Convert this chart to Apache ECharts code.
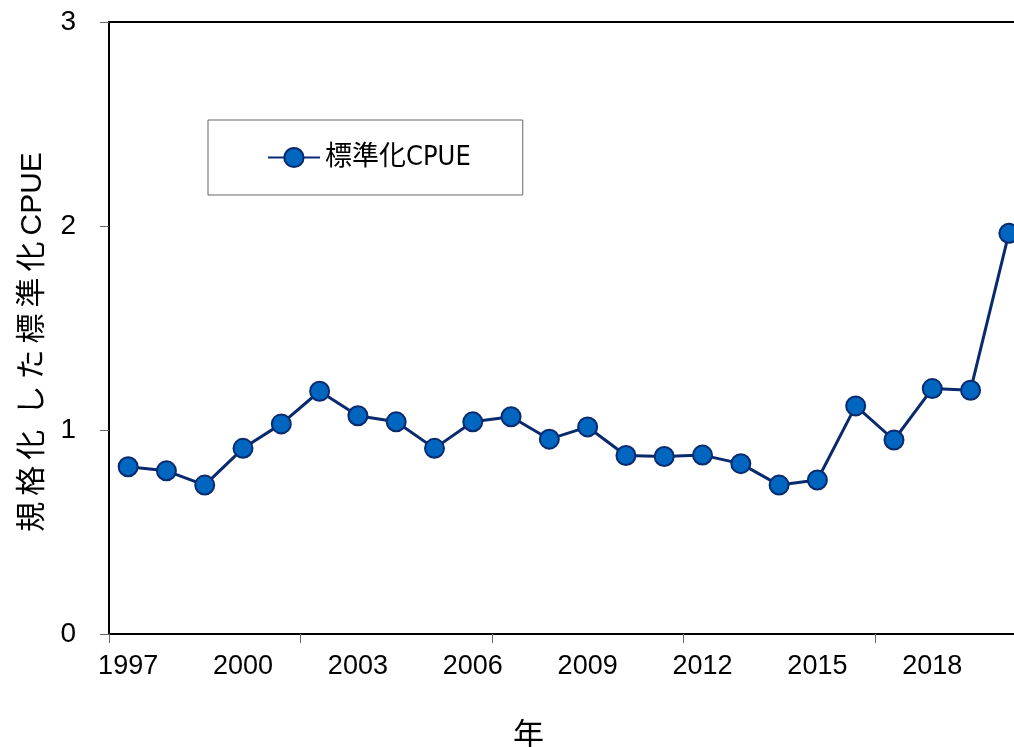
<!DOCTYPE html>
<html>
<head>
<meta charset="utf-8">
<script src="https://cdn.jsdelivr.net/npm/echarts@6/dist/echarts.min.js"></script>
<style>
html, body { margin: 0; padding: 0; background: #fff; }
#main { width: 1014px; height: 747px; }
</style>
</head>
<body>
<div id="main"></div>
<script>
var years = ['1997','1998','1999','2000','2001','2002','2003','2004','2005','2006','2007','2008',
             '2009','2010','2011','2012','2013','2014','2015','2016','2017','2018','2019','2020'];
var cpue = [0.82, 0.80, 0.73, 0.91, 1.03, 1.19, 1.07, 1.04, 0.91, 1.04, 1.065, 0.955,
            1.015, 0.875, 0.87, 0.877, 0.835, 0.73, 0.755, 1.118, 0.951, 1.203, 1.195, 1.964];
var seriesName = '標準化CPUE';
// thin spaces to mimic the wide letter spacing of the original axis title
var yName = '規\u2009格\u2009化 \u2009し\u2009た\u2009標\u2009準\u2009化\u2009CPUE';

var myChart = echarts.init(document.getElementById('main'));

var option = {
    backgroundColor: '#fff',
    animation: false,
    grid: {
        left: 109,
        top: 22,
        width: 919,
        height: 612,
        outerBoundsMode: 'none',
        containLabel: false,
        show: true,
        borderColor: '#000',
        borderWidth: 2
    },
    legend: {
        data: [seriesName],
        left: 208,
        top: 120,
        orient: 'horizontal',
        backgroundColor: '#fff',
        borderColor: '#666',
        borderWidth: 1,
        padding: [24, 52, 24, 59],
        itemWidth: 52,
        itemHeight: 24,
        itemGap: 5,
        textStyle: {
            fontFamily: "'Liberation Sans Narrow', 'DejaVu Sans Condensed', 'Noto Sans CJK JP'",
            fontSize: 27,
            color: '#000'
        }
    },
    xAxis: {
        type: 'category',
        data: years,
        boundaryGap: true,
        name: '年',
        nameLocation: 'middle',
        nameGap: 84,
        nameTextStyle: {
            fontFamily: 'Noto Sans CJK JP',
            fontSize: 31,
            color: '#000',
            padding: [0, 80, 0, 0]
        },
        axisLine: { lineStyle: { color: '#000', width: 2 } },
        axisTick: { show: true, interval: 4, length: 9, lineStyle: { color: '#666', width: 1 } },
        axisLabel: {
            interval: 2,
            margin: 19,
            fontFamily: 'Liberation Sans',
            fontSize: 27,
            color: '#000'
        },
        splitLine: { show: false }
    },
    yAxis: {
        type: 'value',
        min: 0,
        max: 3,
        interval: 1,
        name: yName,
        nameLocation: 'middle',
        nameGap: 61,
        nameRotate: 90,
        nameTextStyle: {
            fontFamily: "'Liberation Sans', 'Noto Sans CJK JP'",
            fontSize: 30,
            color: '#000',
            padding: [0, 28, 0, 0]
        },
        axisLine: { show: true, lineStyle: { color: '#000', width: 2 } },
        axisTick: { show: true, length: 9, lineStyle: { color: '#666', width: 1 } },
        axisLabel: {
            margin: 33,
            fontFamily: 'Liberation Sans',
            fontSize: 28,
            color: '#000'
        },
        splitLine: { show: false }
    },
    series: [
        {
            name: seriesName,
            type: 'line',
            data: cpue,
            symbol: 'circle',
            symbolSize: 19,
            lineStyle: { color: '#0a2a6e', width: 3 },
            itemStyle: { color: '#0066bf', borderColor: '#0a2a6e', borderWidth: 2 }
        }
    ]
};

myChart.setOption(option);
</script>
</body>
</html>
